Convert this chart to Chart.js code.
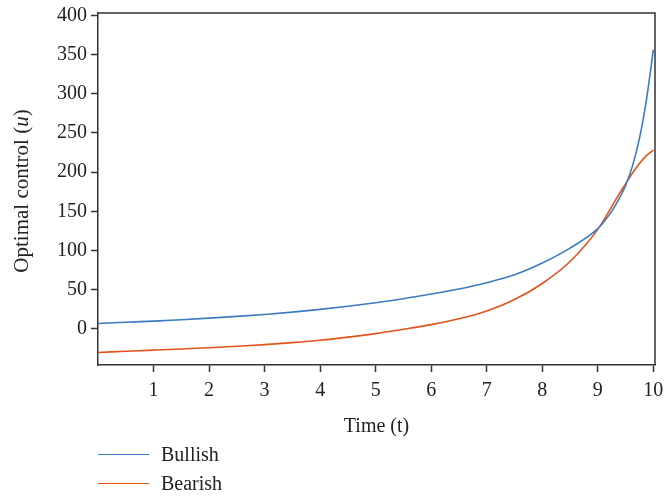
<!DOCTYPE html>
<html>
<head>
<meta charset="utf-8">
<script src="https://cdn.jsdelivr.net/npm/chart.js@4/dist/chart.umd.min.js"></script>
<style>
  html, body { margin: 0; padding: 0; background: #fff; }
  #wrap { position: relative; width: 664px; height: 496px; }
  #legend { position: absolute; left: 98px; top: 440px; font: 20px "Liberation Serif", "DejaVu Serif", serif; color: #222; }
  #legend .item { display: flex; align-items: center; height: 29px; }
  #legend .swatch { width: 51px; height: 0; border-top: 1.6px solid; margin-right: 12px; }
</style>
</head>
<body>
<div id="wrap">
  <canvas id="chart" width="664" height="496"></canvas>
  <div id="legend"></div>
</div>
<script>
document.addEventListener('DOMContentLoaded', () => {
    const FONT = '"Liberation Serif", "DejaVu Serif", serif';

    // Time points and the two control paths
    const times = [0, 0.5, 1, 1.5, 2, 2.5, 3, 3.5, 4, 4.5, 5, 5.5, 6, 6.5, 7, 7.5, 8, 8.5, 9, 9.125, 9.25, 9.375, 9.5, 9.625, 9.75, 9.875, 10];
    const bullish = [7, 8.5, 10, 11.8, 13.8, 16, 18.5, 21.5, 25, 29, 33.5, 38.5, 44.5, 51, 59, 69, 84, 103, 128, 138, 150, 165, 183, 208, 243, 292, 356];
    const bearish = [-30, -28.5, -27, -25.5, -24, -22, -20, -17.5, -14.5, -10.5, -6, -0.5, 5.5, 13, 23, 37.5, 58, 86, 127, 141, 156, 171, 185, 199, 211, 221, 228];

    const xTicks = [1, 2, 3, 4, 5, 6, 7, 8, 9, 10];
    const yTicks = [0, 50, 100, 150, 200, 250, 300, 350, 400];

    const seriesNames = ['Bullish', 'Bearish'];
    const seriesColors = ['#3b7bbf', '#e2531c'];

    const axisColor = '#333';
    const textColor = '#222';

    const toPoints = ys => times.map((t, i) => ({ x: t, y: ys[i] }));

    // Top and right frame lines around the plot area
    const frame = {
        id: 'frame',
        afterDraw(chart) {
            const { ctx, chartArea: a } = chart;
            ctx.save();
            ctx.strokeStyle = axisColor;
            ctx.lineWidth = 1.5;
            ctx.beginPath();
            ctx.moveTo(a.left, a.top);
            ctx.lineTo(a.right, a.top);
            ctx.lineTo(a.right, a.bottom);
            ctx.stroke();
            ctx.restore();
        }
    };

    // Y axis title with an italic symbol
    const yTitle = {
        id: 'yTitle',
        afterDraw(chart) {
            const { ctx, chartArea: a } = chart;
            const parts = [['Optimal control (', 'normal'], ['u', 'italic'], [')', 'normal']];
            ctx.save();
            ctx.fillStyle = textColor;
            ctx.textBaseline = 'middle';
            let total = 0;
            parts.forEach(([s, st]) => { ctx.font = st + ' 21px ' + FONT; total += ctx.measureText(s).width; });
            ctx.translate(22, (a.top + a.bottom) / 2 + 2);
            ctx.rotate(-Math.PI / 2);
            let x = -total / 2;
            parts.forEach(([s, st]) => {
                ctx.font = st + ' 21px ' + FONT;
                ctx.fillText(s, x, 0);
                x += ctx.measureText(s).width;
            });
            ctx.restore();
        }
    };

    const tickGrid = {
        display: true,
        drawOnChartArea: false,
        drawTicks: true,
        tickLength: 7,
        tickWidth: 1.5,
        color: axisColor
    };

    new Chart(document.getElementById('chart'), {
        type: 'line',
        data: {
            datasets: seriesNames.map((name, i) => ({
                label: name,
                data: toPoints([bullish, bearish][i]),
                borderColor: seriesColors[i],
                borderWidth: 1.6,
                pointRadius: 0,
                cubicInterpolationMode: 'monotone',
                fill: false
            }))
        },
        options: {
            responsive: false,
            animation: false,
            layout: { padding: { left: 0, top: 13, right: 9, bottom: 51 } },
            plugins: {
                legend: { display: false },
                tooltip: { enabled: false }
            },
            scales: {
                x: {
                    type: 'linear',
                    min: 0,
                    max: 10.03,
                    afterBuildTicks: s => { s.ticks = xTicks.map(v => ({ value: v })); },
                    afterFit: s => { s.height = 80; s.paddingLeft = 0; s.paddingRight = 0; },
                    border: { display: true, color: axisColor, width: 1.5 },
                    grid: tickGrid,
                    ticks: { color: textColor, font: { family: FONT, size: 20 }, padding: 7, maxRotation: 0 },
                    title: { display: true, text: 'Time (t)', color: textColor, font: { family: FONT, size: 20 }, padding: { top: 4, bottom: 6 } }
                },
                y: {
                    min: -46,
                    max: 403,
                    afterBuildTicks: s => { s.ticks = yTicks.map(v => ({ value: v })); },
                    afterFit: s => { s.width = 98; s.paddingTop = 0; s.paddingBottom = 0; },
                    border: { display: true, color: axisColor, width: 1.5 },
                    grid: tickGrid,
                    ticks: { color: textColor, font: { family: FONT, size: 20 }, padding: 4 }
                }
            }
        },
        plugins: [frame, yTitle]
    });

    const legend = document.getElementById('legend');
    seriesNames.forEach((name, i) => {
        const row = document.createElement('div');
        row.className = 'item';
        const sw = document.createElement('span');
        sw.className = 'swatch';
        sw.style.borderTopColor = seriesColors[i];
        const label = document.createElement('span');
        label.textContent = name;
        row.appendChild(sw);
        row.appendChild(label);
        legend.appendChild(row);
    });
});
</script>
</body>
</html>
